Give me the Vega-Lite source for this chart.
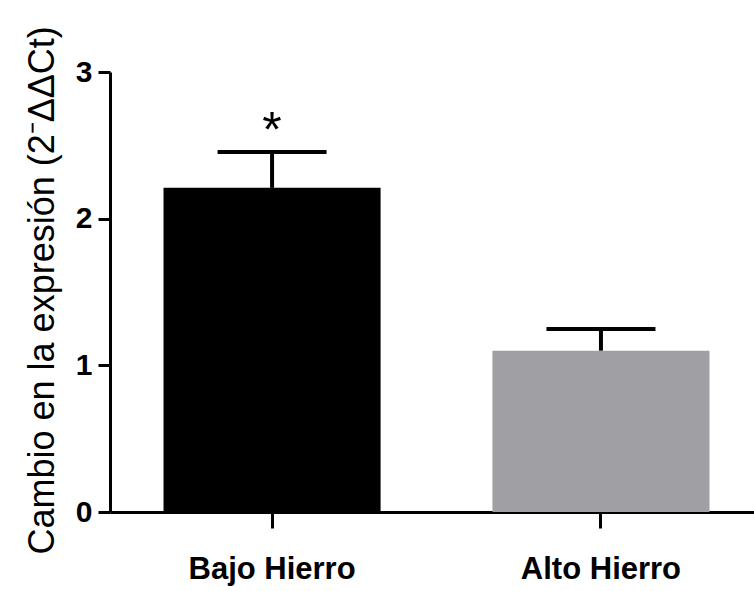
{
  "$schema": "https://vega.github.io/schema/vega-lite/v6.json",
  "width": 644,
  "height": 440,
  "autosize": {"type": "none"},
  "padding": {"left": 110, "top": 72, "right": 0, "bottom": 79},
  "background": "white",
  "config": {"view": {"stroke": null}, "font": "Liberation Sans"},
  "data": {
    "values": [
      {"grupo": "Bajo Hierro", "valor": 2.21, "sup": 2.455, "sig": "*"},
      {"grupo": "Alto Hierro", "valor": 1.10, "sup": 1.248, "sig": ""}
    ]
  },
  "encoding": {
    "x": {
      "field": "grupo",
      "type": "nominal",
      "sort": ["Bajo Hierro", "Alto Hierro"],
      "scale": {"paddingInner": 0.34, "paddingOuter": 0.149, "align": 0.546},
      "axis": {
        "title": null,
        "labelAngle": 0,
        "labelFontSize": 31,
        "labelFontWeight": "bold",
        "labelColor": "black",
        "labelBaseline": "alphabetic",
        "labelPadding": 50,
        "tickSize": 16,
        "tickWidth": 3,
        "tickColor": "black",
        "domainColor": "black",
        "domainWidth": 3
      }
    }
  },
  "layer": [
    {
      "mark": {"type": "bar"},
      "encoding": {
        "y": {
          "field": "valor",
          "type": "quantitative",
          "scale": {"domain": [0, 3]},
          "title": "Cambio en la expresión (2⁻ΔΔCt)",
          "axis": {
            "values": [0, 1, 2, 3],
            "format": "d",
            "grid": false,
            "titleFontSize": 36,
            "titleFontWeight": "normal",
            "titleColor": "black",
            "titleLimit": 2000,
            "titleAngle": -90,
            "titleX": -57,
            "titleY": 482,
            "titleAlign": "left",
            "titleBaseline": "alphabetic",
            "labelFontSize": 30,
            "labelFontWeight": "bold",
            "labelColor": "black",
            "labelPadding": 6,
            "tickSize": 12,
            "tickWidth": 3,
            "tickColor": "black",
            "domainColor": "black",
            "domainWidth": 3
          }
        },
        "color": {
          "field": "grupo",
          "type": "nominal",
          "scale": {"domain": ["Bajo Hierro", "Alto Hierro"], "range": ["#000000", "#a09fa3"]},
          "legend": null
        }
      }
    },
    {
      "mark": {"type": "rule", "strokeWidth": 4, "color": "black", "opacity": 1},
      "encoding": {
        "y": {"field": "valor", "type": "quantitative", "title": "Cambio en la expresión (2⁻ΔΔCt)"},
        "y2": {"field": "sup"}
      }
    },
    {
      "mark": {"type": "tick", "thickness": 4, "size": 109, "color": "black", "opacity": 1},
      "encoding": {
        "y": {"field": "sup", "type": "quantitative", "title": "Cambio en la expresión (2⁻ΔΔCt)"}
      }
    },
    {
      "mark": {"type": "text", "fontSize": 50, "baseline": "alphabetic", "dy": -5, "color": "black"},
      "encoding": {
        "y": {"field": "sup", "type": "quantitative", "title": "Cambio en la expresión (2⁻ΔΔCt)"},
        "text": {"field": "sig"}
      }
    }
  ]
}
